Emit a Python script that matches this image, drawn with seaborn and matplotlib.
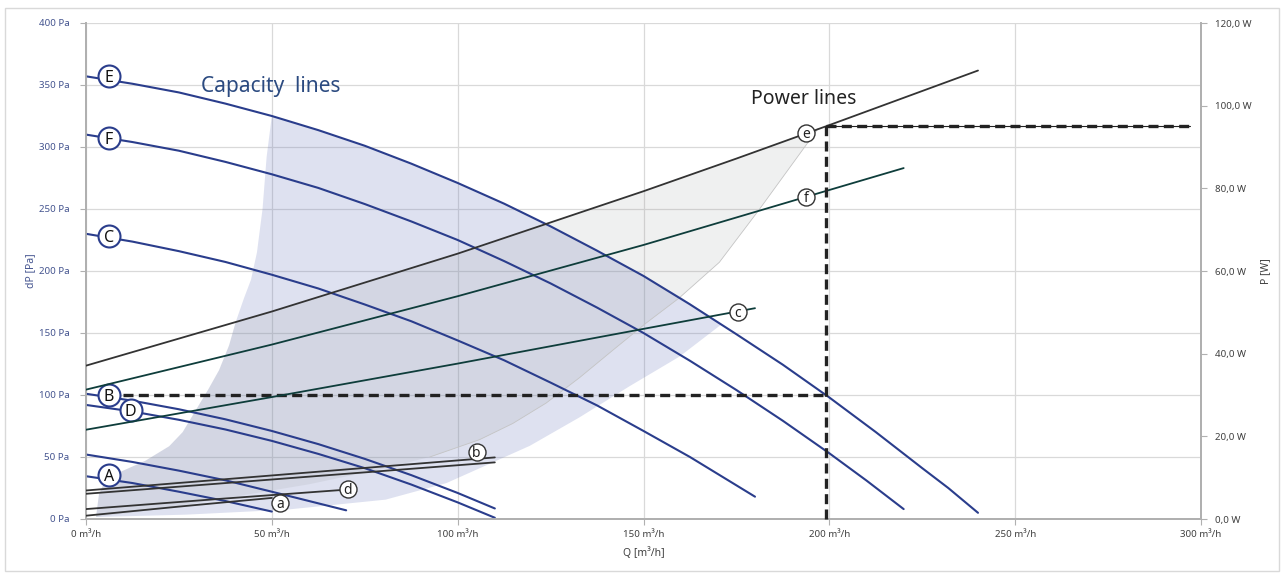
import numpy as np
import pandas as pd
import seaborn as sns
import matplotlib.pyplot as plt
from matplotlib.patches import Rectangle
from matplotlib.ticker import FuncFormatter, MultipleLocator

# capacity curves, Q [m3/h] -> dP [Pa]
cap_E_q = [0, 12.5, 25, 37.5, 50, 62.5, 75, 87.5, 100, 112.5, 125, 137.5, 150, 162.5, 175, 187.5, 200, 212.5, 225, 232, 240]
cap_E_p = [357, 351, 344, 335, 325, 313.6, 301, 286.6, 271, 254.3, 236, 216.4, 196, 173.1, 149, 124.4, 98, 70.1, 41, 25, 5]
cap_F_q = [0, 12.5, 25, 37.5, 50, 62.5, 75, 87.5, 100, 112.5, 125, 137.5, 150, 162.5, 175, 187.5, 200, 210, 220]
cap_F_p = [310, 304, 297, 288, 278, 267, 254, 240, 225, 208, 190, 170.5, 150, 127.6, 104, 79.2, 53, 31, 8]
cap_C_q = [0, 12.5, 25, 37.5, 50, 62.5, 75, 87.5, 100, 112.5, 125, 137.5, 150, 162.5, 180]
cap_C_p = [230, 223.7, 216, 207.3, 197, 185.9, 173, 159.5, 144, 128, 110, 91.6, 71, 50, 18]
cap_B_q = [0, 12.5, 25, 37.5, 50, 62.5, 75, 87.5, 100, 110]
cap_B_p = [101, 95.4, 88.5, 80.4, 71, 60.4, 48.5, 35.4, 21, 8.5]
cap_D_q = [0, 12.5, 25, 37.5, 50, 62.5, 75, 87.5, 100, 110]
cap_D_p = [92, 86.7, 80, 72.2, 63, 52.5, 41, 27.8, 13.4, 1]
cap_X_q = [0, 12.5, 25, 37.5, 50, 60, 70]
cap_X_p = [52, 46, 39, 31.2, 22, 14.5, 7]
cap_A_q = [0, 12.5, 25, 37.5, 50]
cap_A_p = [34.5, 29, 22, 14.5, 6]

# power curves, Q [m3/h] -> P [W]
pow_e_q = [0, 50, 100, 150, 175, 200, 240]
pow_e_w = [37.1, 50.2, 64.2, 79.3, 87.2, 95.3, 108.5]
pow_f_q = [0, 50, 100, 150, 200, 220]
pow_f_w = [31.3, 42.2, 53.9, 66.3, 79.6, 84.9]
pow_c_q = [0, 50, 100, 150, 180]
pow_c_w = [21.6, 29.5, 37.6, 46.0, 51.0]
pow_b1_q = [0, 55, 110]
pow_b1_w = [6.9, 10.9, 14.9]
pow_b2_q = [0, 55, 110]
pow_b2_w = [6.1, 9.9, 13.7]
pow_d_q = [0, 35, 70]
pow_d_w = [2.4, 4.8, 7.1]
pow_a_q = [0, 25, 50]
pow_a_w = [0.8, 3.0, 5.1]

# label positions
cap_labels = ["E", "F", "C", "B", "D", "A"]
cap_label_q = [6.2, 6.2, 6.2, 6.2, 12, 6.2]
cap_label_p = [357, 307, 228, 100, 88, 35.5]
pow_labels = ["e", "f", "c", "b", "d", "a"]
pow_label_q = [193.8, 193.8, 175.3, 105.1, 70.4, 52.2]
pow_label_w = [93.5, 78.0, 50.2, 16.3, 7.3, 3.9]

# operating point (dashed)
op_q = 199
op_p = 100
op_w = 95
op_start_q = 9.9
op_end_q = 297

# shaded capacity range (Pa)
left_edge_q = [2.7, 3.5, 5.5, 8.9, 16, 22.4, 26, 29, 33, 35.8, 38.5, 40.3]
left_edge_p = [1.6, 20, 33, 37.5, 47, 58.7, 70, 85, 105, 120, 140, 159]
cap_area_q = left_edge_q + [42.5, 44.4, 46, 47.5, 48.6, 50, 62.5, 75, 87.5, 100, 112.5, 125, 137.5, 150, 160, 171,
                            159.7, 146.2, 132.8, 119.4, 97, 80.6, 53.8, 26.9]
cap_area_p = left_edge_p + [178, 193, 215, 250, 292, 325, 313.6, 301, 286.6, 271, 254.3, 236, 216.4, 196, 179, 157,
                            131, 107, 82, 59, 29, 15.6, 7.5, 3.5]
# shaded power range (Pa)
pow_top_q = [50, 100, 150, 175, 197]
pow_top_p = [167, 214, 264, 291, 315]
pow_edge_q = [197, 181, 170.4, 159.5, 150.7, 141.7, 132.8, 123.8, 114.8, 105.9, 92.5, 79, 60, 40, 20, 2.7]
pow_edge_p = [315, 249, 207, 178, 158, 136, 114, 93.5, 77, 64, 50, 40, 28, 18, 8, 1.6]

blue = "#2a3d8c"
teal = "#0e3d3b"
dark = "#333333"
tick_blue = "#44548f"
tick_gray = "#404040"

sns.set_theme(style="white")
plt.rcParams["font.family"] = ["Noto Sans", "DejaVu Sans"]

fig = plt.figure(figsize=(12.84, 5.75), dpi=100)
fig.patches.append(Rectangle((5 / 1284, 4 / 575), 1274 / 1284, 563 / 575,
                             transform=fig.transFigure, fill=False,
                             ec="#d9d9d9", lw=1.0))
ax = fig.add_axes([86 / 1284, 1 - 519 / 575, (1201 - 86) / 1284, (519 - 23) / 575])
ax.set_xlim(0, 300)
ax.set_ylim(0, 400)
ax2 = ax.twinx()
ax2.set_ylim(0, 120)

# grid
ax.xaxis.set_major_locator(MultipleLocator(50))
ax.yaxis.set_major_locator(MultipleLocator(50))
ax2.yaxis.set_major_locator(MultipleLocator(20))
ax.grid(True, color="#d9d9d9", lw=0.9)
ax.set_axisbelow(True)

# shaded areas
ax.fill(cap_area_q, cap_area_p, color=(100 / 255, 115 / 255, 185 / 255), alpha=0.21, lw=0, zorder=1)
ax.fill(left_edge_q + pow_top_q + pow_edge_q, left_edge_p + pow_top_p + pow_edge_p,
        color=(150 / 255, 155 / 255, 155 / 255), alpha=0.15, lw=0, zorder=1)
ax.plot(pow_edge_q[:11], pow_edge_p[:11], color="#c4c4c4", lw=0.6, zorder=1)

# capacity curves
for q, p in [(cap_E_q, cap_E_p), (cap_F_q, cap_F_p), (cap_C_q, cap_C_p),
             (cap_B_q, cap_B_p), (cap_D_q, cap_D_p), (cap_X_q, cap_X_p), (cap_A_q, cap_A_p)]:
    sns.lineplot(x=q, y=p, ax=ax, color=blue, lw=1.5, sort=False, estimator=None, zorder=3)

# dashed operating point
dash = (0, (3, 1.6))
ax2.plot([op_q, op_end_q], [op_w, op_w], color="#222222", lw=0.8, zorder=4)
ax2.plot([op_q, op_end_q], [op_w, op_w], color="#222222", lw=2.4, ls=dash, zorder=4)
ax2.plot([op_q, op_q], [0, op_w], color="#222222", lw=2.4, ls=dash, zorder=4, clip_on=False)
ax.plot([op_start_q, op_q], [op_p, op_p], color="#222222", lw=2.4, ls=dash, zorder=4)

# power curves
for q, w, c in [(pow_e_q, pow_e_w, dark), (pow_f_q, pow_f_w, teal), (pow_c_q, pow_c_w, teal),
                (pow_b1_q, pow_b1_w, dark), (pow_b2_q, pow_b2_w, dark),
                (pow_d_q, pow_d_w, dark), (pow_a_q, pow_a_w, dark)]:
    sns.lineplot(x=q, y=w, ax=ax2, color=c, lw=1.3, sort=False, estimator=None, zorder=3)

# letter markers
ax.scatter(cap_label_q, cap_label_p, s=250, facecolor="white", edgecolor=blue, lw=1.5, zorder=5, clip_on=False)
for t, q, p in zip(cap_labels, cap_label_q, cap_label_p):
    ax.text(q, p, t, ha="center", va="center_baseline", fontsize=11.5, color="#111111", zorder=6)
ax2.scatter(pow_label_q, pow_label_w, s=150, facecolor="white", edgecolor=dark, lw=1.0, zorder=5)
for t, q, w in zip(pow_labels, pow_label_q, pow_label_w):
    ax2.text(q, w, t, ha="center", va="center_baseline", fontsize=10, color="#222222", zorder=6)

ax.text(30.9, 349, "Capacity  lines", ha="left", va="center", fontsize=15, color="#2b4a80")
ax2.text(179, 101.5, "Power lines", ha="left", va="center", fontsize=14, color="#222222")

# axes styling
for s in ["top"]:
    ax.spines[s].set_visible(False)
    ax2.spines[s].set_visible(False)
for a in (ax, ax2):
    for s in ["left", "right", "bottom"]:
        a.spines[s].set_color("#b0b0b0")
        a.spines[s].set_linewidth(1.3)
ax.yaxis.set_major_formatter(FuncFormatter(lambda v, _: f"{int(v)} Pa"))
ax.xaxis.set_major_formatter(FuncFormatter(lambda v, _: f"{int(v)} m³/h"))
ax2.yaxis.set_major_formatter(FuncFormatter(lambda v, _: f"{v:.1f} W".replace(".", ",")))
ax.tick_params(axis="y", colors="#b0b0b0", labelcolor=tick_blue, labelsize=7, length=4, width=0.8, pad=8, left=True)
ax.tick_params(axis="x", colors="#b0b0b0", labelcolor=tick_gray, labelsize=7, length=4, width=0.8, pad=4, bottom=True)
ax2.tick_params(axis="y", colors="#b0b0b0", labelcolor=tick_gray, labelsize=7, length=4, width=0.8, pad=6, right=True)
ax.set_xlabel("Q [m³/h]", fontsize=7.5, color=tick_gray, labelpad=6)
ax.set_ylabel("dP [Pa]", fontsize=7.5, color=tick_blue, labelpad=2)
ax2.set_ylabel("P [W]", fontsize=7.5, color=tick_gray, labelpad=6)

fig.savefig("out.png", dpi=100)
